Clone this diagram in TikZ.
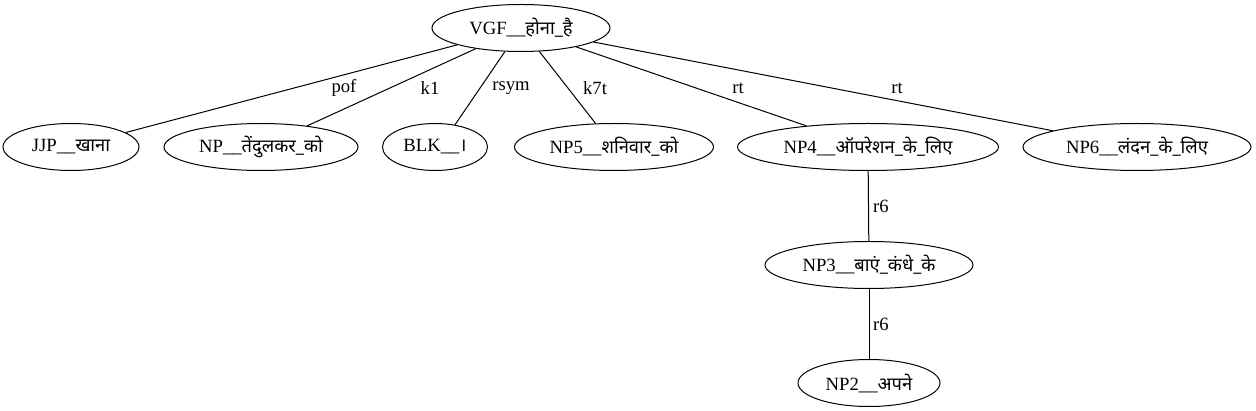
\documentclass[tikz,border=0pt]{standalone}
\usepackage{fontspec}
\setmainfont{Liberation Serif}
\newfontfamily\dev[Script=Devanagari,Scale=0.98]{Noto Sans}
\usetikzlibrary{shapes.geometric}
\begin{document}
\begin{tikzpicture}[x=1pt,y=-1pt,
  every node/.style={font=\fontsize{18.7}{22}\selectfont},
  tok/.style={draw, ellipse, inner sep=0pt, minimum height=47pt, line width=1pt},
  lab/.style={inner sep=0pt},
  conn/.style={draw, line width=1pt}]
\useasboundingbox (0,0) rectangle (1256,411);
\node[tok, minimum width=178pt] (vgf) at (521,28) {VGF\_\_{\dev होना\_है}};
\node[tok, minimum width=136pt] (jjp) at (71,147) {JJP\_\_{\dev खाना}};
\node[tok, minimum width=194pt] (np) at (261,147) {NP\_\_{\dev तेंदुलकर\_को}};
\node[tok, minimum width=105pt] (blk) at (435,147) {BLK\_\_{\dev ।}};
\node[tok, minimum width=199pt] (np5) at (614,147) {NP5\_\_{\dev शनिवार\_को}};
\node[tok, minimum width=261pt] (np4) at (868,147) {NP4\_\_{\dev ऑपरेशन\_के\_लिए}};
\node[tok, minimum width=228pt] (np6) at (1137,147) {NP6\_\_{\dev लंदन\_के\_लिए}};
\node[tok, minimum width=208pt] (np3) at (869,265) {NP3\_\_{\dev बाएं\_कंधे\_के}};
\node[tok, minimum width=142pt] (np2) at (869,383) {NP2\_\_{\dev अपने}};
\draw[conn] (vgf) -- (jjp);
\draw[conn] (vgf) -- (np);
\draw[conn] (vgf) -- (blk.48);
\draw[conn] (vgf) -- (np5);
\draw[conn] (vgf) -- (np4);
\draw[conn] (vgf) -- (np6);
\draw[conn] (np4) -- (np3);
\draw[conn] (np3) -- (np2);
\node[lab] (l1) at (344,88) {pof};
\node[lab] (l2) at (430,88) {k1};
\node[lab] (l3) at (511,88) {rsym};
\node[lab] (l4) at (595,88) {k7t};
\node[lab] (l5) at (738,88) {rt};
\node[lab] (l6) at (897,88) {rt};
\node[lab] (l7) at (881,206) {r6};
\node[lab] (l8) at (881,324) {r6};
\end{tikzpicture}
\end{document}
